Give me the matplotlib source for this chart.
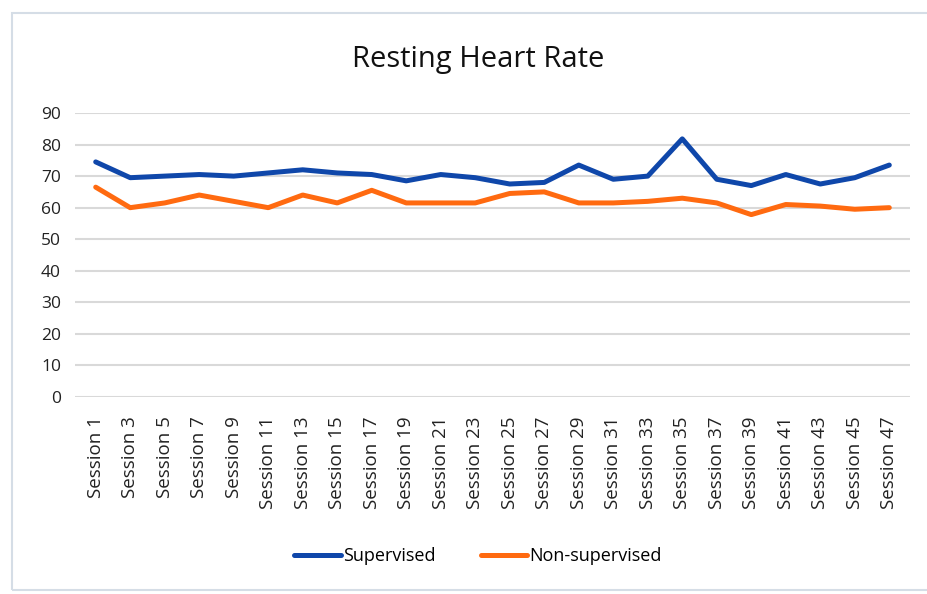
import numpy
import matplotlib.pyplot as plt
from matplotlib.patches import Rectangle

plt.rcParams['font.family'] = ['Open Sans', 'DejaVu Sans']

# Sessões (ímpares de 1 a 47)
sessions = [f'Session {n}' for n in range(1, 48, 2)]

# Frequência cardíaca em repouso
supervised = [74.5, 69.5, 70, 70.5, 70, 71, 72, 71, 70.5, 68.5, 70.5, 69.5,
              67.5, 68, 73.5, 69, 70, 81.8, 69, 67, 70.5, 67.5, 69.5, 73.5]
non_supervised = [66.5, 60, 61.5, 64, 62, 60, 64, 61.5, 65.5, 61.5, 61.5, 61.5,
                  64.5, 65, 61.5, 61.5, 62, 63, 61.5, 57.8, 61, 60.5, 59.5, 60]

fig = plt.figure(figsize=(9.28, 5.94), dpi=100)
ax = fig.add_axes([75 / 928, 1 - 397 / 594, 835 / 928, 284 / 594])

x = numpy.arange(len(sessions))
ax.plot(x, supervised, color='#0F47AA', lw=3.6, label='Supervised', solid_capstyle='round')
ax.plot(x, non_supervised, color='#FF6A10', lw=3.6, label='Non-supervised', solid_capstyle='round')

ax.set_ylim(0, 90)
ax.set_yticks(range(0, 91, 10))
ax.set_xlim(-0.6, len(sessions) - 0.4)
ax.set_xticks(x)
ax.set_xticklabels(sessions, rotation=90, fontsize=13.5, color='#222222')
ax.tick_params(axis='y', labelsize=12.5, labelcolor='#222222', length=0, pad=10)
ax.tick_params(axis='x', length=0, pad=14)
ax.grid(axis='y', color='#D9D9D9', lw=1.5)
ax.set_axisbelow(True)
for s in ax.spines.values():
    s.set_visible(False)

fig.text(0.515, 1 - 60 / 594, 'Resting Heart Rate', ha='center', va='center', fontsize=21, color='#111111')

fig.legend(loc='center', bbox_to_anchor=(0.515, 1 - 556 / 594), ncol=2, frameon=False,
           fontsize=13, handlelength=2.6, handletextpad=0.1, columnspacing=2.5)

fig.patches.append(Rectangle((12 / 928, 0.006), 1, 1 - 13 / 594 - 0.006, transform=fig.transFigure,
                             fill=False, edgecolor='#D5DDE6', lw=1.5))

fig.savefig('out.png')
